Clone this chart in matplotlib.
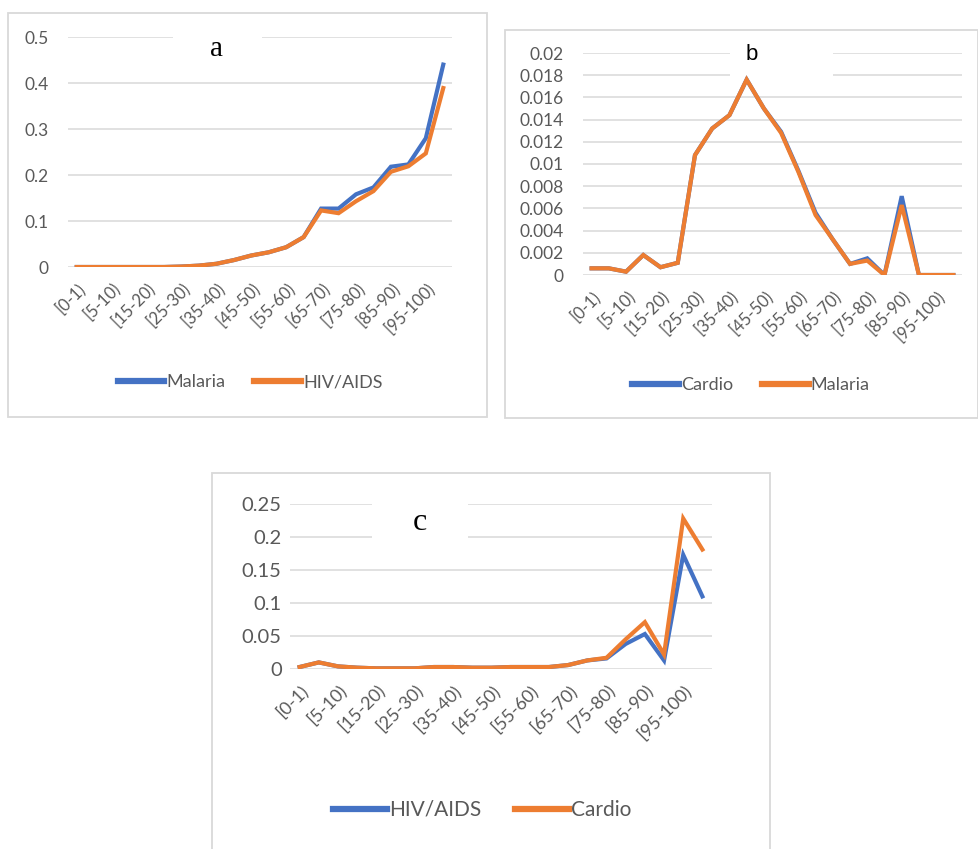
import numpy as np
import matplotlib
matplotlib.use("Agg")
import matplotlib.pyplot as plt
from matplotlib.patches import Rectangle

# age groups (22 categories, every other one labelled)
categorias = ["[0-1)", "[1-5)", "[5-10)", "[10-15)", "[15-20)", "[20-25)", "[25-30)",
              "[30-35)", "[35-40)", "[40-45)", "[45-50)", "[50-55)", "[55-60)",
              "[60-65)", "[65-70)", "[70-75)", "[75-80)", "[80-85)", "[85-90)",
              "[90-95)", "[95-100)", "[100+)"]

# panel a
a_malaria = [0, 0, 0, 0, 0, 0, 0.001, 0.003, 0.007, 0.015, 0.025, 0.032, 0.043,
             0.065, 0.127, 0.127, 0.158, 0.173, 0.218, 0.223, 0.28, 0.44]
a_hiv = [0, 0, 0, 0, 0, 0, 0.001, 0.003, 0.007, 0.015, 0.025, 0.032, 0.043,
         0.065, 0.123, 0.117, 0.143, 0.165, 0.207, 0.219, 0.247, 0.389]

# panel b
b_cardio = [0.0006, 0.0006, 0.0003, 0.0018, 0.0007, 0.0011, 0.0108, 0.0132, 0.0144,
            0.0176, 0.015, 0.0129, 0.0094, 0.0056, 0.0032, 0.001, 0.0015, 0.0,
            0.0071, 0, 0, 0]
b_malaria = [0.0006, 0.0006, 0.0003, 0.0018, 0.0007, 0.0011, 0.0108, 0.0132, 0.0144,
             0.0176, 0.015, 0.0128, 0.0093, 0.0054, 0.0032, 0.001, 0.0013, 0.0,
             0.0063, 0, 0, 0]

# panel c
c_hiv = [0.003, 0.01, 0.004, 0.002, 0.001, 0.001, 0.001, 0.003, 0.003, 0.002, 0.002,
         0.003, 0.003, 0.003, 0.006, 0.013, 0.016, 0.038, 0.053, 0.013, 0.173, 0.11]
c_cardio = [0.003, 0.01, 0.004, 0.002, 0.001, 0.001, 0.001, 0.003, 0.003, 0.002, 0.002,
            0.003, 0.003, 0.003, 0.006, 0.013, 0.017, 0.045, 0.071, 0.022, 0.228, 0.181]

AZUL = "#4472C4"
NARANJA = "#ED7D31"
GRIS = "#595959"
REJILLA = "#D9D9D9"

W, H = 979, 849
fig = plt.figure(figsize=(W / 100, H / 100), dpi=100)
fig.patch.set_facecolor("white")


def caja(x0, y0, x1, y1):
    fig.patches.append(Rectangle((x0 / W, 1 - y1 / H), (x1 - x0) / W, (y1 - y0) / H,
                                 transform=fig.transFigure, fill=False,
                                 edgecolor=REJILLA, lw=1.3))


def panel(l, r, t, b, serie1, serie2, nombres, ymax, paso, ypad, fs_y, fs_x,
          titulo, tx, ty, hueco, tfam, tsize, leg_x, leg_y, leg_fs):
    ax = fig.add_axes([l / W, 1 - b / H, (r - l) / W, (b - t) / H])
    x = np.arange(len(categorias))
    ax.plot(x, serie1, color=AZUL, lw=3.0, solid_joinstyle="miter", label=nombres[0])
    ax.plot(x, serie2, color=NARANJA, lw=3.0, solid_joinstyle="miter", label=nombres[1])
    ax.set_xlim(-0.5, len(categorias) - 0.5)
    ax.set_ylim(0, ymax)
    yt = np.round(np.arange(0, ymax + paso / 2, paso), 4)
    ax.set_yticks(yt)
    ax.set_yticklabels(["{:g}".format(v) for v in yt], fontsize=fs_y, color=GRIS,
                       family="Lato")
    ax.set_xticks(x[::2])
    ax.set_xticklabels(categorias[::2], rotation=45, ha="right", rotation_mode="anchor",
                       fontsize=fs_x, color=GRIS, family="Lato")
    ax.tick_params(axis="both", length=0)
    ax.tick_params(axis="y", pad=ypad)
    ax.tick_params(axis="x", pad=9)
    for s in ax.spines.values():
        s.set_visible(False)
    ax.grid(axis="y", color=REJILLA, lw=1.1)
    ax.set_axisbelow(True)
    # hueco blanco del titulo sobre la rejilla
    ax.add_patch(Rectangle(((hueco[0] - l) / (r - l), (b - hueco[3]) / (b - t)),
                           (hueco[1] - hueco[0]) / (r - l), (hueco[3] - hueco[2]) / (b - t),
                           transform=ax.transAxes, facecolor="white", edgecolor="none",
                           zorder=1.5, clip_on=False))
    fig.text(tx / W, 1 - ty / H, titulo, ha="center", va="center", family=tfam,
             fontsize=tsize, color="black")
    leg = fig.legend(handles=ax.get_lines(), loc="center",
                     bbox_to_anchor=(leg_x / W, 1 - leg_y / H),
                     ncol=2, frameon=False, handlelength=2.6, handletextpad=0.1,
                     columnspacing=1.6, prop={"family": "Lato", "size": leg_fs},
                     labelcolor=GRIS)
    for h in leg.legend_handles:
        h.set_linewidth(4.5)
    return ax


caja(8, 13, 487, 417)
panel(68, 452, 37, 267, a_malaria, a_hiv, ["Malaria", "HIV/AIDS"], 0.5, 0.1, 14, 12.5, 12,
      "a", 217, 49, (173, 262, 30, 45), "Liberation Serif", 21, 250, 382, 13)

caja(505, 30, 978, 418)
panel(583, 962, 53, 275, b_cardio, b_malaria, ["Cardio", "Malaria"], 0.02, 0.002, 14, 12.5, 12,
      "b", 752, 55, (730, 833, 46, 80), "Liberation Sans", 16, 751, 385, 13)

caja(212, 473, 770, 852)
panel(290, 712, 504, 669, c_hiv, c_cardio, ["HIV/AIDS", "Cardio"], 0.25, 0.05, 6, 14.5, 13,
      "c", 420, 523, (372, 468, 497, 540), "Liberation Serif", 23, 482, 810, 15)

fig.savefig("out.png", dpi=100, facecolor="white")
